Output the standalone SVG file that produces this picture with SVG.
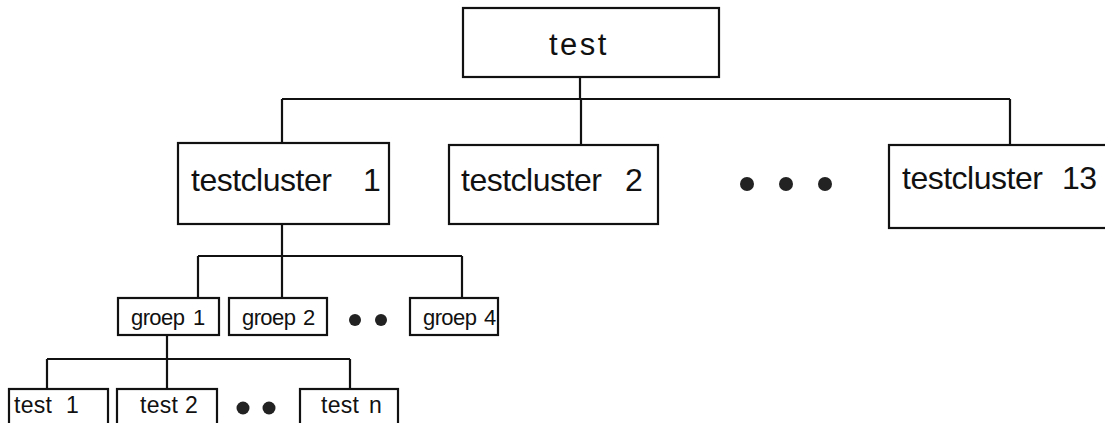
<svg xmlns="http://www.w3.org/2000/svg" width="1105" height="423" viewBox="0 0 1105 423">
<style>
.box{fill:#fff;stroke:#111;stroke-width:2.2}
.ln{fill:none;stroke:#111;stroke-width:2.2}
.t{font-family:"Liberation Sans",Arial,sans-serif;fill:#111}
.big{font-size:31px;letter-spacing:2.5px}
.mid{font-size:32px;letter-spacing:-0.5px}
.sm{font-size:22px;letter-spacing:-0.6px}
.tt{font-size:23px;letter-spacing:0.3px}
.dot{fill:#222}
</style>
<rect width="1105" height="423" fill="#fff"/>
<g id="connectors">
<path class="ln" d="M580 77V99M282 99H1010M282 99V143M581 99V145M1010 99V145"/>
<path class="ln" d="M282 224V256M198 256H462M198 256V298M282 256V298M462 256V298"/>
<path class="ln" d="M167 335V359M47 359H350M47 359V389M167 359V389M350 359V389"/>
</g>
<g id="test">
<rect class="box" x="463" y="8" width="256" height="69"/>
<text class="t big" x="549" y="55">test</text>
</g>
<g id="testcluster1">
<rect class="box" x="178" y="143" width="211" height="81"/>
<text class="t mid" x="191" y="191">testcluster<tspan x="363">1</tspan></text>
</g>
<g id="testcluster2">
<rect class="box" x="449" y="145" width="209" height="79"/>
<text class="t mid" x="461" y="191">testcluster<tspan x="625">2</tspan></text>
</g>
<g id="dots-clusters">
<circle class="dot" cx="747" cy="184" r="7"/>
<circle class="dot" cx="786" cy="184" r="7"/>
<circle class="dot" cx="825" cy="184" r="7"/>
</g>
<g id="testcluster13">
<rect class="box" x="889" y="145" width="230" height="83"/>
<text class="t mid" x="902" y="189">testcluster<tspan x="1062">13</tspan></text>
</g>
<g id="groep1">
<rect class="box" x="118" y="298" width="101" height="37"/>
<text class="t sm" x="131" y="325">groep<tspan x="193">1</tspan></text>
</g>
<g id="groep2">
<rect class="box" x="229" y="298" width="98" height="37"/>
<text class="t sm" x="242" y="325">groep<tspan x="303">2</tspan></text>
</g>
<g id="dots-groep">
<circle class="dot" cx="355" cy="320" r="6"/>
<circle class="dot" cx="381" cy="320" r="6"/>
</g>
<g id="groep4">
<rect class="box" x="410" y="298" width="88" height="37"/>
<text class="t sm" x="423" y="325">groep<tspan x="484">4</tspan></text>
</g>
<g id="test1">
<rect class="box" x="9" y="389" width="99" height="40"/>
<text class="t tt" x="14" y="413">test<tspan x="66">1</tspan></text>
</g>
<g id="test2">
<rect class="box" x="117" y="389" width="100" height="40"/>
<text class="t tt" x="140" y="413">test<tspan x="185">2</tspan></text>
</g>
<g id="dots-test">
<circle class="dot" cx="243" cy="408" r="6.5"/>
<circle class="dot" cx="269" cy="408" r="6.5"/>
</g>
<g id="testn">
<rect class="box" x="300" y="389" width="98" height="40"/>
<text class="t tt" x="321" y="413">test<tspan x="369">n</tspan></text>
</g>
</svg>
